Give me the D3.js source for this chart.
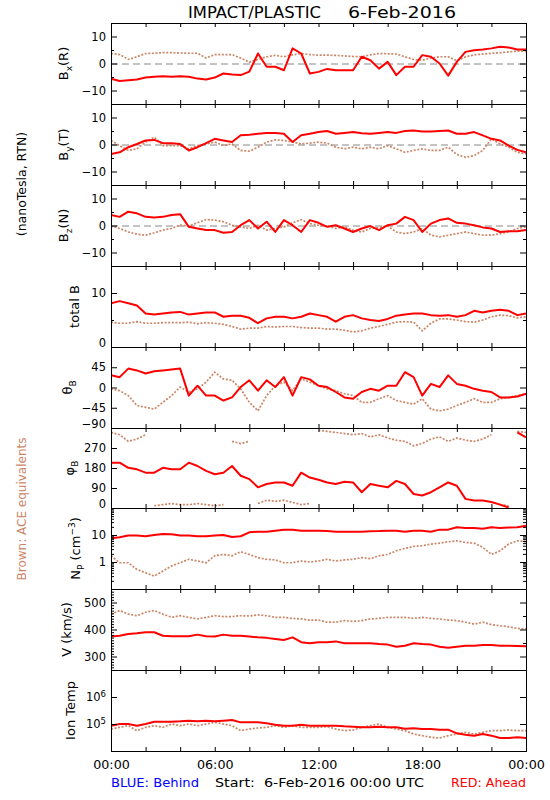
<!DOCTYPE html>
<html><head><meta charset="utf-8">
<script src="https://cdn.jsdelivr.net/npm/d3@7/dist/d3.min.js"></script>
<style>
html,body{margin:0;padding:0;background:#fff;}
svg{display:block;}
text{font-family:"DejaVu Sans",sans-serif;}
</style></head><body>
<svg id="chart" width="550" height="800"></svg>
<script>
// time stamps (hours after 6-Feb-2016 00:00 UTC)
const hours = [0,0.5,1,1.5,2,2.5,3,3.5,4,4.5,5,5.5,6,6.5,7,7.5,8,8.5,9,9.5,10,10.5,11,11.5,12,12.5,13,13.5,14,14.5,15,15.5,16,16.5,17,17.5,18,18.5,19,19.5,20,20.5,21,21.5,22,22.5,23,23.5,24];

// STEREO Ahead (red) and ACE (brown) series
const bxAhead = [-5.6,-6.5,-6.2,-5.9,-5.2,-4.9,-4.7,-4.9,-4.7,-4.9,-5.6,-5.9,
  -5.2,-3.7,-4.1,-4.3,-3.0,3.7,-1.2,-1.2,-2.5,5.6,3.7,-3.7,
  -3.1,-2.0,-2.5,-2.5,-2.5,2.5,1.2,-1.9,0.6,-4.3,-1.2,-1.2,
  3.1,2.5,0,-4.5,0.6,4.3,4.9,5.2,5.6,6.2,5.9,5.2,5.2];
const bxAce = [3.7,3.3,1.5,2.5,3.7,3.8,4.0,4.0,3.9,3.8,3.8,2.0,
  3.3,3.3,3.3,2.0,0.5,1.5,2.5,3.0,2.5,3.2,3.7,3.3,
  3.1,3.1,3.0,2.8,2.6,2.5,3.2,3.7,3.6,3.5,2.5,1.5,
  1.2,2.0,2.5,2.5,1.0,2.5,3.2,3.5,3.8,4.0,4.3,4.6,4.5];
const byAhead = [-3.5,-2.9,-1.0,0.2,1.5,1.7,0.5,0.5,0.2,-2.2,-1.0,0.5,
  2.1,1.5,0.9,3.4,3.6,4.0,4.3,4.3,4.0,0.9,3.4,4.0,
  4.6,5.0,4.0,4.3,4.6,4.2,4.0,4.3,4.6,4.3,5.0,5.2,
  4.8,4.8,5.0,5.2,4.0,4.0,4.6,3.4,2.1,1.5,-0.4,-2.0,-2.9];
const byAce = [1.5,-0.4,-2.2,-1.6,0.9,2.7,-0.4,-0.4,-0.4,-1.6,-0.4,0.2,
  0.9,-0.4,0.2,-2.2,-2.5,-1.0,0.9,1.7,1.5,0.9,0.2,0.5,
  0.9,0.5,-1.0,-1.6,-1.0,-1.6,-1.0,-1.6,-0.4,-1.6,-2.9,-2.2,
  -1.6,-2.2,-2.2,-1.0,-3.7,-4.7,-4.1,-2.2,2.1,0.2,-1.0,-2.9,-3.5];
const bzAhead = [3.9,3.2,5.1,4.5,3.2,3.0,3.2,3.9,4.2,-0.5,-1.1,-1.7,
  -1.7,-2.7,-2.4,0.1,2.0,-1.1,1.4,-2.4,2.0,0.1,-2.4,2.0,
  1.0,-0.5,0.1,-1.1,-2.4,-1.1,-0.2,-1.7,0.1,0.7,3.2,2.0,
  -2.4,0.7,2.0,2.6,1.0,0.7,0.1,-0.7,-1.1,-2.4,-2.1,-2.1,-1.7];
const bzAce = [-0.2,-1.1,-2.4,-3.2,-3.6,-2.7,-1.7,-1.1,0.1,-0.2,1.0,2.2,
  2.0,1.4,0.1,-0.5,-1.1,0.1,-1.7,-1.1,-0.5,1.0,2.2,0.7,
  0.1,-0.2,-1.1,-0.5,-1.7,-2.4,-1.1,-0.7,-0.2,-2.4,-3.0,-2.4,
  -1.1,-3.6,-4.2,-3.6,-3.0,-2.4,-3.0,-3.6,-3.6,-3.0,-2.4,-1.1,-0.5];
const btAhead = [8.1,8.5,8.1,7.7,6.2,6.0,6.2,6.4,6.5,6.0,6.2,6.4,
  6.4,5.6,5.8,5.8,5.4,4.4,5.3,5.6,5.6,5.3,5.6,6.2,
  5.9,5.6,4.7,5.6,5.9,5.3,5.0,4.8,5.2,5.8,6.0,6.2,
  6.2,5.9,5.8,5.9,5.6,5.9,6.7,6.4,6.7,6.9,6.7,5.9,6.2];
const btAce = [4.6,4.4,4.4,4.7,4.4,4.4,4.5,4.5,4.5,4.6,4.3,4.5,
  4.4,4.2,3.8,3.3,3.5,3.5,3.8,3.7,3.8,3.8,3.6,3.5,
  3.5,3.3,3.3,3.1,2.8,3.0,3.5,3.8,4.2,4.6,4.7,4.6,
  3.0,4.4,5.2,5.2,5.0,4.7,4.6,5.0,5.6,5.9,5.8,5.4,5.6];
const thetaAhead = [27,23,42,38,31,36,38,40,42,-18,4,-18,
  -18,-29,-22,1,16,-7,16,1,23,-18,23,18,
  4,1,-10,-22,-25,-10,-3,-7,4,4,34,23,
  -18,8,1,27,8,4,-3,-7,-10,-22,-22,-20,-14];
const thetaAce = [-3,-7,-18,-40,-44,-48,-33,-18,1,-10,-3,12,
  34,19,16,-3,-33,-52,-18,4,12,-7,19,12,
  4,-3,-7,-14,-18,-33,-33,-25,-18,-29,-33,-37,
  -25,-48,-52,-48,-40,-33,-25,-33,-33,-25,-22,-18,-14];
const phiAhead = [204,204,181,174,159,159,181,174,174,204,189,167,
  152,159,189,145,130,93,108,115,115,100,159,137,
  127,115,108,118,115,71,108,100,93,122,108,63,
  56,71,93,115,100,41,34,34,27,15,2,340,318];
const phiAce = [340,330,300,310,330,10,15,20,15,15,20,15,
  10,15,300,290,300,20,35,30,35,25,15,20,
  350,345,340,335,330,335,320,330,315,305,300,280,
  290,310,320,300,315,305,300,310,330,15,10,345,340];
const npAhead = [7.5,8.2,9.5,9.5,9.0,10,10.9,10.6,9.5,9.5,9.0,9.0,
  9.5,10,8.5,9.0,12.6,13.3,13.3,14.5,15.8,15.8,14.5,14.5,
  14.5,14.0,13.3,13.3,13.3,13.3,13.8,14.0,14.5,14.5,13.3,14.5,
  14.5,13.3,15.8,15.8,19.5,18,18,17,19.5,18,19,19.5,22];
const npAce = [1.7,0.94,0.94,0.53,0.40,0.30,0.46,0.71,0.94,1.26,1.09,0.94,
  1.7,1.9,1.7,2.4,1.9,1.45,1.26,1.19,0.94,0.94,1.09,1.0,
  1.09,1.26,1.09,1.19,1.26,1.45,1.33,1.7,1.9,2.6,3.2,3.8,
  4.0,4.6,5.0,5.6,6.1,5.3,5.0,3.5,1.9,2.6,4.6,6.1,5.6];
const vAhead = [374,377,383,386,390,390,377,375,375,375,381,375,
  374,381,377,377,374,371,369,365,361,371,353,349,
  353,353,356,349,349,349,349,346,344,336,340,349,
  346,344,336,332,336,340,340,343,343,340,340,339,338];
const vAce = [457,470,457,451,464,470,457,445,451,445,439,445,
  451,448,448,451,450,454,451,445,445,441,439,435,
  435,427,427,433,430,433,439,441,445,445,445,441,
  445,441,439,435,433,427,420,427,418,414,410,404,402];
const tAhead = [86700,100000,100000,86700,100000,122000,122000,122000,126000,133000,126000,133000,
  126000,133000,141000,115000,115000,115000,106000,94400,86700,86700,94400,86700,
  86700,86700,86700,82000,79700,75300,75300,79700,75300,75300,67000,69200,
  65300,65300,61700,61700,45100,40300,37000,42600,37000,30300,30300,32100,30300];
const tAce = [65300,75300,86700,56600,75300,86700,75300,100000,86700,100000,86700,100000,
  115000,100000,86700,56600,65300,71100,75300,86700,75300,86700,75300,75300,
  75300,79700,65300,56600,60000,75300,86700,100000,75300,65300,56600,42600,
  37000,32100,30300,37000,42600,49100,42600,49100,56600,56600,60000,56600,56600];

// tick labels
const timeTickHours = [0,6,12,18,24];
const timeTickLabels = ["00:00","06:00","12:00","18:00","00:00"];
const minorTickHours = [2,4,8,10,14,16,20,22];
const bTicks = [-10,0,10], bTickLabels = ["\u221210","0","10"];
const btTicks = [0,10], btTickLabels = ["0","10"];
const thetaTicks = [-90,-45,0,45], thetaTickLabels = ["\u221290","\u221245","0","45"];
const phiTicks = [0,90,180,270], phiTickLabels = ["0","90","180","270"];
const npTicks = [1,10], npTickLabels = ["1","10"];
const vTicks = [300,400,500], vTickLabels = ["300","400","500"];
const tTicks = [1e5,1e6], tTickExponents = ["5","6"];

const RED = "#ff0000", BROWN = "#cc8566";
const svg = d3.select("#chart");
const x = d3.scaleLinear().domain([0,24]).range([111,526]);
const tops = d3.range(10).map(i => Math.round(23 + i*80.9));

const panels = [
 {ahead:bxAhead, ace:bxAce, domain:[-15,15], major:bTicks, labels:bTickLabels, minorL:[-5,5], minorR:[-5,5], zero:true, lab:[["B"],["x","sub"],["(R)"]], lx:63},
 {ahead:byAhead, ace:byAce, domain:[-15,15], major:bTicks, labels:bTickLabels, minorL:[-5,5], minorR:[-5,5], zero:true, lab:[["B"],["y","sub"],["(T)"]], lx:63},
 {ahead:bzAhead, ace:bzAce, domain:[-15,15], major:bTicks, labels:bTickLabels, minorL:[-5,5], minorR:[-5,5], zero:true, lab:[["B"],["z","sub"],["(N)"]], lx:63},
 {ahead:btAhead, ace:btAce, domain:[0,15], major:btTicks, labels:btTickLabels, minorL:[5], minorR:[5], lab:[["total B"]], lx:74},
 {ahead:thetaAhead, ace:thetaAce, domain:[-90,90], major:thetaTicks, labels:thetaTickLabels, minorL:[], minorR:[], lab:[["\u03b8"],["B","sub"]], lx:67},
 {ahead:phiAhead, ace:phiAce, domain:[0,360], major:phiTicks, labels:phiTickLabels, minorL:[], minorR:[], wrap:true, lab:[["\u03c6"],["B","sub"]], lx:69},
 {ahead:npAhead, ace:npAce, log:true, domain:[0.1,100], major:npTicks, labels:npTickLabels, logMinor:true, lab:[["N"],["P","sub"],[" (cm"],["\u22123","sup"],[")"]], lx:75},
 {ahead:vAhead, ace:vAce, domain:[250,550], major:vTicks, labels:vTickLabels, minorL:d3.range(260,550,10).filter(v=>v%100!==0), minorR:[350,450], lab:[["V (km/s)"]], lx:66},
 {ahead:tAhead, ace:tAce, log:true, domain:[1e4,1e7], major:tTicks, sup:tTickExponents, minorL:[], minorR:[], lab:[["Ion Temp"]], lx:70}
];

panels.forEach((p,i) => {
  const top = tops[i], bot = tops[i+1];
  const y = (p.log ? d3.scaleLog() : d3.scaleLinear()).domain(p.domain).range([bot, top]);
  const g = svg.append("g");
  svg.append("clipPath").attr("id","clip"+i).append("rect")
    .attr("x",111).attr("y",top).attr("width",416).attr("height",bot-top+1);
  const plot = g.append("g").attr("clip-path",`url(#clip${i})`);

  if (p.zero) {
    plot.append("line").attr("x1",x(0)).attr("x2",x(24)).attr("y1",y(0)+0.5).attr("y2",y(0)+0.5)
      .attr("stroke","#888").attr("stroke-width",1).attr("stroke-dasharray","7,4");
  }
  const segs = vals => {
    const out = []; let cur = [];
    vals.forEach((v,k) => {
      if (cur.length && p.wrap && Math.abs(v - cur[cur.length-1][1]) > 180) { out.push(cur); cur = []; }
      cur.push([hours[k], v]);
    });
    if (cur.length) out.push(cur);
    return out;
  };
  const line = d3.line().x(d => x(d[0])).y(d => y(d[1]));
  plot.selectAll("path.ace").data(segs(p.ace)).join("path").attr("class","ace")
    .attr("d", line).attr("fill","none").attr("stroke",BROWN)
    .attr("stroke-width",1.7).attr("stroke-dasharray","2,1.6");
  plot.selectAll("path.ahead").data(segs(p.ahead)).join("path").attr("class","ahead")
    .attr("d", line).attr("fill","none").attr("stroke",RED)
    .attr("stroke-width",2).attr("stroke-linejoin","round");

  // frame
  g.append("rect").attr("x",111.5).attr("y",top+0.5).attr("width",415).attr("height",bot-top)
    .attr("fill","none").attr("stroke","#000").attr("stroke-width",1);

  // y axes
  const yl = d3.axisLeft(y).tickValues(p.major).tickSizeInner(-6).tickSizeOuter(0).tickPadding(5)
    .tickFormat((d,k) => p.labels ? p.labels[k] : "10");
  const ga = g.append("g").attr("transform","translate(111,0)").call(yl)
    .attr("font-size",11.5).attr("font-family",null);
  ga.select(".domain").remove();
  ga.selectAll(".tick line").attr("stroke","#000");
  ga.selectAll(".tick").filter(d => Math.abs(y(d) - bot) < 1).select("text").attr("dy","0").attr("y",-0.5);
  if (p.sup) {
    ga.selectAll(".tick text").each(function(d,k){
      d3.select(this).append("tspan").attr("dy","-0.5em").attr("font-size","8.5px").text(p.sup[k]);
    });
  }
  const yr = d3.axisRight(y).tickValues(p.major).tickSizeInner(-6).tickSizeOuter(0).tickFormat("");
  const gr = g.append("g").attr("transform","translate(526,0)").call(yr);
  gr.select(".domain").remove();
  let minL = p.minorL || [], minR = p.minorR || [];
  if (p.logMinor) {
    minL = y.ticks().filter(v => !p.major.includes(v));
    minR = minL;
  }
  const gml = g.append("g").attr("transform","translate(111,0)")
    .call(d3.axisLeft(y).tickValues(minL).tickSizeInner(-3).tickSizeOuter(0).tickFormat(""));
  gml.select(".domain").remove();
  const gmr = g.append("g").attr("transform","translate(526,0)")
    .call(d3.axisRight(y).tickValues(minR).tickSizeInner(-3).tickSizeOuter(0).tickFormat(""));
  gmr.select(".domain").remove();

  // x ticks top & bottom
  const allX = timeTickHours.concat(minorTickHours);
  const gxt = g.append("g").attr("transform",`translate(0,${top})`)
    .call(d3.axisTop(x).tickValues(allX).tickSizeInner(-4).tickSizeOuter(0).tickFormat(""));
  gxt.select(".domain").remove();
  const gxb = g.append("g").attr("transform",`translate(0,${bot})`)
    .call(d3.axisBottom(x).tickValues(allX).tickSizeInner(-4).tickSizeOuter(0).tickFormat(""));
  gxb.select(".domain").remove();

  // y label
  const lab = svg.append("text")
    .attr("transform",`translate(${p.lx + 4.5},${(top+bot)/2}) rotate(-90)`)
    .attr("text-anchor","middle").attr("font-size",13).style("white-space","pre");
  let shift = 0;
  p.lab.forEach(([t,kind]) => {
    const ts = lab.append("tspan").text(t);
    let target = 0;
    if (kind === "sub") { ts.attr("font-size",9); target = 4; }
    else if (kind === "sup") { ts.attr("font-size",9); target = -5; }
    if (target !== shift) { ts.attr("dy", target - shift); shift = target; }
  });
});

// time labels under last panel
const bottom = tops[9];
const gx = svg.append("g").attr("transform",`translate(0,${bottom})`)
  .call(d3.axisBottom(x).tickValues(timeTickHours).tickSizeInner(0).tickSizeOuter(0).tickPadding(9)
    .tickFormat((d,k) => timeTickLabels[k]))
  .attr("font-size",12.7).attr("font-family",null);
gx.select(".domain").remove();
gx.selectAll(".tick line").remove();

// titles and side notes
svg.append("text").attr("x",188).attr("y",18).attr("font-size",15)
  .attr("textLength",133).attr("lengthAdjust","spacingAndGlyphs").text("IMPACT/PLASTIC");
svg.append("text").attr("x",348).attr("y",18).attr("font-size",15)
  .attr("textLength",108).attr("lengthAdjust","spacingAndGlyphs").text("6-Feb-2016");
svg.append("text").attr("transform","translate(26,184) rotate(-90)").attr("text-anchor","middle")
  .attr("font-size",12.5).text("(nanoTesla, RTN)");
svg.append("text").attr("transform","translate(25.5,509) rotate(-90)").attr("text-anchor","middle")
  .attr("font-size",12).attr("fill",BROWN).text("Brown: ACE equivalents");
svg.append("text").attr("x",111).attr("y",787).attr("font-size",12.7).attr("fill","#0000ff")
  .attr("textLength",88).attr("lengthAdjust","spacingAndGlyphs").text("BLUE: Behind");
svg.append("text").attr("x",215).attr("y",787).attr("font-size",12.7).style("white-space","pre")
  .attr("textLength",209).attr("lengthAdjust","spacingAndGlyphs").text("Start:  6-Feb-2016 00:00 UTC");
svg.append("text").attr("x",451).attr("y",787).attr("font-size",12.7).attr("fill",RED)
  .attr("textLength",75).attr("lengthAdjust","spacingAndGlyphs").text("RED: Ahead");
</script>
</body></html>
